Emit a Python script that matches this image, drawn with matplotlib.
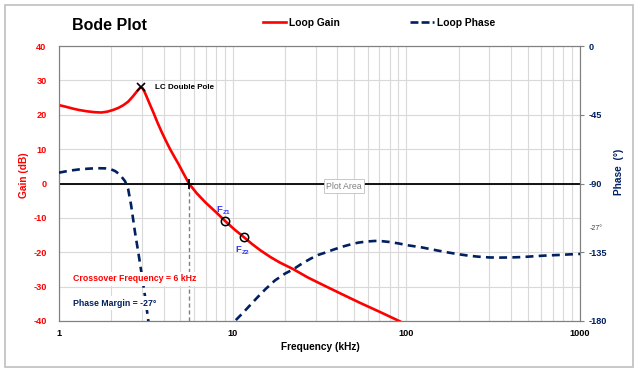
import numpy as np
import matplotlib
matplotlib.use("Agg")
import matplotlib.pyplot as plt
from matplotlib.patches import Rectangle
from matplotlib.ticker import FixedLocator, NullFormatter

plt.rcParams['font.family'] = ['Liberation Sans', 'DejaVu Sans']
plt.rcParams['axes.unicode_minus'] = False

# loop gain (kHz, dB)
gain_freq = [1.0, 1.1, 1.2, 1.3, 1.45, 1.6, 1.75, 1.9, 2.05, 2.2, 2.35, 2.5, 2.65, 2.8,
             2.9, 2.96, 3.03, 3.1, 3.2, 3.35, 3.5, 3.7, 3.9, 4.1, 4.35, 4.6, 4.86, 5.2,
             5.6, 6.2, 7.0, 8.0, 9.0, 10.2, 11.6, 13.0, 14.5, 16.5, 18.7, 22.3, 27.0,
             34.0, 43.0, 54.0, 70.0, 90.0, 110.0]
gain_db = [22.8, 22.3, 21.8, 21.4, 21.0, 20.75, 20.65, 20.9, 21.4, 22.0, 22.8, 23.8, 25.2,
           26.7, 27.6, 28.0, 27.7, 26.8, 25.2, 22.8, 20.6, 17.6, 15.0, 12.7, 10.1, 7.9,
           5.8, 3.0, 0.0, -2.8, -5.6, -8.3, -10.8, -13.3, -15.6, -17.7, -19.5, -21.4,
           -23.0, -24.9, -27.3, -29.8, -32.3, -34.7, -37.3, -39.9, -42.0]

# loop phase (kHz, deg)
phase_freq = [1.0, 1.15, 1.3, 1.47, 1.65, 1.85, 1.97, 2.1, 2.2, 2.3, 2.4, 2.5, 2.6, 2.74,
              2.87, 2.99, 3.13, 3.27, 3.6, 4.2, 5.0, 5.6, 6.5, 7.5, 8.5, 10.3, 11.5, 13.0,
              14.0, 15.5, 17.5, 20.0, 22.3, 25.0, 28.0, 31.0, 34.0, 38.0, 43.0, 48.0,
              52.9, 59.0, 65.9, 73.0, 80.0, 90.0, 100.0, 122.5, 150.0, 175.0, 200.0,
              230.0, 260.0, 300.0, 346.0, 400.0, 450.0, 500.0, 564.0, 650.0, 750.0,
              870.0, 1000.0]
phase_deg = [-82.9, -81.6, -80.8, -80.3, -80.0, -80.1, -80.5, -81.8, -83.5, -85.8, -88.5,
             -93.5, -104.0, -122.0, -136.0, -149.0, -164.0, -180.0, -197.0, -205.0,
             -208.0, -207.0, -203.0, -196.0, -189.0, -180.0, -174.5, -168.0, -164.1,
             -159.0, -153.5, -149.0, -146.2, -142.5, -139.3, -136.8, -135.3, -133.3,
             -131.3, -129.8, -128.7, -128.0, -127.6, -127.8, -128.3, -129.2, -130.3,
             -131.8, -133.8, -135.2, -136.3, -137.3, -137.9, -138.4, -138.5, -138.4,
             -138.2, -137.9, -137.5, -137.1, -136.8, -136.4, -136.1]

lc_pole = (2.96, 28.0)
crossover = (5.6, 0.0)
zero_freq = [9.0, 11.6]
zero_gain = [-10.8, -15.6]
zero_names = ['Z1', 'Z2']

red = '#FF0000'
navy = '#002060'
blue = '#3333FF'

fig = plt.figure(figsize=(6.4, 3.76), dpi=100)
fig.add_artist(Rectangle((5 / 640, 1 - 367 / 376), 628 / 640, 362 / 376,
                         transform=fig.transFigure, fill=False,
                         edgecolor='#BFBFBF', lw=1.2))

ax = fig.add_axes([59 / 640, 1 - 321 / 376, 521 / 640, 275 / 376])
ax.set_xscale('log')
ax.set_xlim(1, 1000)
ax.set_ylim(-40, 40)
ax.set_yticks(np.arange(-40, 41, 10))

ax.xaxis.set_major_locator(FixedLocator([1, 10, 100, 1000]))
ax.xaxis.set_minor_locator(FixedLocator([m * d for d in (1, 10, 100) for m in range(2, 10)]))
ax.xaxis.set_minor_formatter(NullFormatter())
ax.set_xticklabels(['1', '10', '100', '1000'])
ax.grid(True, which='both', axis='x', color='#D9D9D9', lw=0.8)
ax.grid(True, which='major', axis='y', color='#D9D9D9', lw=0.8)
ax.set_axisbelow(True)
ax.axhline(0, color='black', lw=1.3, zorder=2)

for s in ax.spines.values():
    s.set_color('#808080')
ax.tick_params(axis='x', which='both', length=0, pad=6, labelsize=6.6, colors='black')
ax.tick_params(axis='y', length=0, pad=9, labelsize=6.6, labelcolor=red)
for lab in ax.get_xticklabels() + ax.get_yticklabels():
    lab.set_fontweight('bold')

ax.plot(gain_freq, gain_db, color=red, lw=1.9, zorder=3, clip_on=True)
ax.plot([crossover[0], crossover[0]], [-40, crossover[1]], color='#808080',
        lw=1.0, ls=(0, (3, 2)), zorder=2)
ax.plot(*lc_pole, marker='x', color='black', ms=6, mew=1.2, zorder=5)
ax.plot(*crossover, marker='+', color='black', ms=7, mew=1.3, zorder=5)
ax.plot(zero_freq, zero_gain, ls='none', marker='o', mfc='none', mec='black',
        ms=6, mew=1.1, zorder=5)

ax.annotate('LC Double Pole', lc_pole, xytext=(10, 0), textcoords='offset points',
            fontsize=5.8, fontweight='bold', va='center', ha='left')
# F labels with subscript, above the first zero and below the second
for fz, gz, name, dy in zip(zero_freq, zero_gain, zero_names, [8, -9]):
    ax.annotate('F', (fz, gz), xytext=(-4, dy), textcoords='offset points',
                fontsize=6.8, fontweight='bold', color=blue, ha='center', va='center')
    ax.annotate(name, (fz, gz), xytext=(-1.3, dy - 2), textcoords='offset points',
                fontsize=4.6, fontweight='bold', color=blue, ha='left', va='center')

ax2 = ax.twinx()
ax2.set_ylim(-180, 0)
ax2.set_yticks([0, -45, -90, -135, -180])
ax2.tick_params(axis='y', direction='out', length=3, color='#808080', pad=3,
                labelsize=6.6, labelcolor=navy)
for lab in ax2.get_yticklabels():
    lab.set_fontweight('bold')
for s in ax2.spines.values():
    s.set_color('#808080')
ax2.plot(phase_freq, phase_deg, color=navy, lw=1.9, ls=(0, (3, 2)), zorder=3)

ax2.text(0.027, 0.153, 'Crossover Frequency = 6 kHz', transform=ax2.transAxes,
         fontsize=6.3, fontweight='bold', color=red, va='center', ha='left', zorder=6,
         bbox=dict(facecolor='white', edgecolor='none', pad=2))
ax2.text(0.027, 0.065, 'Phase Margin = -27\u00b0', transform=ax2.transAxes,
         fontsize=6.3, fontweight='bold', color=navy, va='center', ha='left', zorder=6,
         bbox=dict(facecolor='white', edgecolor='none', pad=2))
ax2.text(1.019, 0.338, '-27\u00b0', transform=ax2.transAxes, fontsize=5,
         color='#404040', va='center', ha='left')

fig.text(24 / 640, 1 - 175 / 376, 'Gain (dB)', rotation=90, color=red,
         fontsize=7.3, fontweight='bold', ha='center', va='center')
fig.text(619 / 640, 1 - 172 / 376, 'Phase  (\u00b0)', rotation=90, color=navy,
         fontsize=7.3, fontweight='bold', ha='center', va='center')
fig.text(320 / 640, 1 - 347 / 376, 'Frequency (kHz)', fontsize=7.3,
         fontweight='bold', ha='center', va='center')
fig.text(72 / 640, 1 - 25 / 376, 'Bode Plot', fontsize=11.5, fontweight='bold',
         ha='left', va='center')
fig.text(344 / 640, 1 - 186 / 376, 'Plot Area', fontsize=6.3, color='#808080',
         ha='center', va='center',
         bbox=dict(facecolor='white', edgecolor='#BFBFBF', lw=0.6, pad=1.5))

handles = [plt.Line2D([], [], color=red, lw=1.9),
           plt.Line2D([], [], color=navy, lw=1.9, ls=(0, (3, 1.2)))]
fig.legend(handles, ['Loop Gain', 'Loop Phase'], loc='center',
           bbox_to_anchor=(379 / 640, 1 - 23 / 376), ncol=2, frameon=False,
           prop=dict(size=7.4, weight='bold'), handlelength=2.3,
           handletextpad=0.3, columnspacing=6.8)

fig.savefig('out.png', dpi=100)
